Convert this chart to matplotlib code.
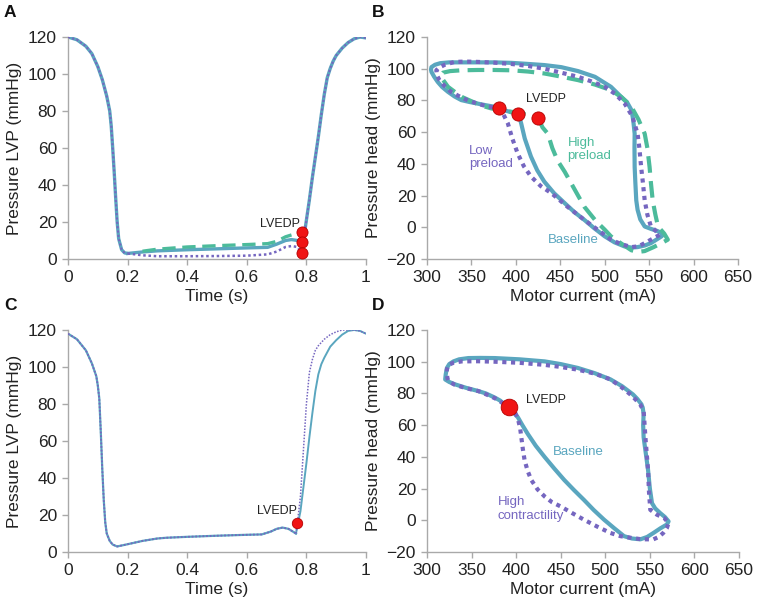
import matplotlib
matplotlib.use("Agg")
import matplotlib.pyplot as plt

plt.rcParams['font.family'] = ['Liberation Sans', 'DejaVu Sans']

# ---------------- Data ----------------
# Panel A: LVP vs time (shared systolic parts + three diastolic variants)
a_t_fall = [0, 0.03, 0.06, 0.08, 0.1, 0.115, 0.13, 0.14, 0.145, 0.15, 0.155, 0.16, 0.165, 0.17, 0.18, 0.19, 0.2]
a_p_fall = [120, 118.5, 115, 111, 104, 97, 88, 80, 72, 60, 47, 33, 20, 11, 5, 3.3, 3]
a_t_rise = [0.79, 0.80, 0.81, 0.82, 0.83, 0.84, 0.85, 0.86, 0.87, 0.88, 0.89, 0.9, 0.92, 0.94, 0.96, 0.98, 1.0]
a_p_rise = [10, 21, 32, 44, 55, 66, 78, 89, 98, 103, 107, 110, 114, 117, 119, 120, 119.5]
a_t_base = [0.2, 0.25, 0.3, 0.4, 0.5, 0.6, 0.67, 0.7, 0.73, 0.75, 0.77, 0.785]
a_p_base = [3, 3.8, 4.4, 5, 5.5, 6, 6.3, 8, 10, 10.5, 10, 9.5]
a_t_high = [0.25, 0.3, 0.4, 0.5, 0.6, 0.67, 0.7, 0.73, 0.75]
a_p_high = [4.2, 5.3, 6.5, 7.2, 7.8, 8.3, 9.5, 12, 13]
a_t_low = [0.2, 0.25, 0.3, 0.4, 0.5, 0.6, 0.67, 0.7, 0.73, 0.75, 0.77, 0.785]
a_p_low = [3, 2, 1.5, 1.5, 1.6, 1.8, 2.5, 4, 6.5, 7, 6.5, 3]
a_lvedp_t = [0.785, 0.785, 0.785]
a_lvedp_p = [14.5, 9, 3]

# Panel B: PQ loops, preload variation
b_base_x = [403, 406, 410, 417, 424, 432, 443, 455, 466, 477, 488, 500, 511, 522, 530, 537, 545, 552, 559, 564, 566, 560, 552, 545, 540, 537, 535.5, 534.5, 533.7, 533.5, 533.7, 532, 530, 525, 519, 507, 489, 470, 451, 432, 414, 395, 376, 357, 338.6, 325, 315, 309, 305, 304.5, 305, 308, 312, 317, 323.6, 331, 338.6, 348, 357, 366, 376, 386, 395, 403]
b_base_y = [71.4, 65.5, 56, 44.6, 36, 28.8, 21.5, 15.2, 9.5, 4.7, -0.5, -5.7, -9.5, -12, -12.8, -12.5, -11.5, -10, -7.5, -5.7, -4.5, -2.5, -1, 0.5, 5, 11, 17, 28, 38, 50, 59, 68, 74, 79, 82, 88.6, 94.9, 98.5, 101, 102.3, 103, 103.7, 104, 104, 104, 104, 103.5, 102.5, 101, 99.5, 98, 95, 91.7, 88.5, 85.4, 82.5, 80.2, 79, 78, 77, 76, 74, 72.5, 71.4]
b_low_x = [380.6, 385.5, 391, 396, 402, 409, 417, 428, 440, 458, 477, 492, 507, 518, 530, 538, 545, 553, 562, 556, 552, 548, 545, 543, 541, 539, 537, 531, 522.5, 512, 500, 485, 470, 451, 432, 414, 395, 376, 357, 344, 331, 320, 313, 310.5, 311, 314, 320, 327, 336, 346, 357, 368.6, 380.6]
b_low_y = [75.4, 71.8, 65.5, 56, 46.6, 38.5, 32, 26, 21.5, 13, 4.7, -1.5, -7.8, -10.5, -12.5, -12, -10, -7.5, -4.7, -1.5, 0.5, 8, 17, 28, 38, 50, 59, 70, 78, 84, 88.6, 92, 94.9, 97.5, 100, 101.7, 103, 103.8, 104.3, 104.5, 104.3, 102.5, 100.5, 99, 96, 92.8, 89, 85.4, 82.7, 80, 78, 76, 75.4]
b_high_x = [425.3, 430, 436, 441, 447, 455, 466, 477, 490, 500, 507, 518, 530, 538, 545, 555, 564, 571, 567, 560, 557, 554, 552, 550.5, 548, 545, 538, 530, 519, 507, 489, 470, 451, 432, 414, 395, 376, 357, 338.6, 326, 318, 316, 318, 323.6, 331, 340, 350, 360, 372, 387, 402, 414, 425.3]
b_high_y = [68.7, 63, 59, 50, 42, 35, 24, 13, 4, -1.5, -5.7, -10, -14.5, -15.5, -15, -12.5, -10, -7.8, -4, 0.5, 8, 17, 28, 38, 50, 59, 68, 76, 82, 86.5, 90, 92.8, 95, 97, 98.2, 99, 99.2, 99.2, 99, 98.5, 97.5, 96, 93, 88.6, 85.5, 82, 79.5, 77, 75, 73.5, 72.3, 70.8, 68.7]
b_lvedp_x = [380.6, 402.8, 425.3]
b_lvedp_y = [75.4, 71.4, 68.7]

# Panel C: LVP vs time, contractility variation
c_t_shared = [0, 0.03, 0.06, 0.08, 0.095, 0.1, 0.105, 0.11, 0.115, 0.12, 0.125, 0.13, 0.14, 0.15, 0.165, 0.2, 0.25, 0.3, 0.33, 0.4, 0.5, 0.6, 0.65, 0.68, 0.7, 0.72, 0.74, 0.765]
c_p_shared = [118, 115, 109, 102, 95, 90, 83, 65, 45, 28, 16, 10, 6, 4, 3, 4.2, 6, 7.3, 7.7, 8.2, 8.8, 9.3, 9.5, 11, 12.5, 13.2, 12.5, 10]
c_t_base_rise = [0.765, 0.77, 0.78, 0.79, 0.80, 0.81, 0.82, 0.83, 0.84, 0.85, 0.86, 0.88, 0.9, 0.92, 0.94, 0.96, 0.98, 1.0]
c_p_base_rise = [10, 14, 22, 35, 48, 62, 75, 87, 96, 101.5, 105, 111, 114.5, 117.5, 119.5, 120, 119.5, 118]
c_t_hc_rise = [0.765, 0.77, 0.78, 0.79, 0.80, 0.81, 0.82, 0.83, 0.84, 0.86, 0.88, 0.9, 0.92, 0.94, 0.96, 0.98, 1.0]
c_p_hc_rise = [10, 16, 30, 55, 80, 97, 104, 109, 111.5, 115, 117.5, 119, 120, 120, 120, 119.5, 118]
c_lvedp_t = [0.768]
c_lvedp_p = [15.5]

# Panel D: PQ loops, contractility variation
d_base_x = [392, 397, 402, 407, 413, 422, 432, 443, 454, 465, 476, 487, 498.6, 510, 521, 530, 539.4, 547, 554, 562, 569, 571, 567, 561.7, 556, 552.4, 550, 548, 545.5, 543, 542.5, 543, 542, 540.5, 536, 531, 519, 506, 488, 469, 450, 432, 404, 376, 360, 346.4, 336, 329.7, 325, 322.3, 321, 320.4, 325, 331.6, 344, 357.5, 366, 376, 382, 387, 392]
d_base_y = [71.5, 68, 64.9, 60, 54.5, 47, 39.9, 32.5, 25.4, 19, 12.9, 6.5, 0.4, -5, -10, -11.5, -12, -10.5, -8, -5, -2.7, -0.7, 2, 4.5, 7.5, 10.8, 20, 31.6, 42, 52.4, 60, 67, 71, 73.2, 76.5, 79.4, 84.5, 88.8, 92.8, 96.1, 98.5, 100.2, 101.5, 102.3, 102.4, 102.3, 101.5, 100.2, 98.5, 96, 92, 88.8, 87.2, 85.7, 83.5, 81.5, 80, 77.4, 75.5, 73.2, 71.5]
d_hc_x = [392, 398, 402, 404.5, 405.8, 407.5, 409.5, 413, 417, 424, 432, 440, 450, 463, 476, 491, 505.8, 517, 528, 541, 554, 560, 565, 569, 571, 566, 558, 550.5, 549, 548, 546.5, 545, 544, 543, 539, 530, 518, 506, 488, 469, 450, 432, 404, 376, 357, 339, 330, 324, 322.3, 322.3, 323, 324, 331, 344, 357.5, 366, 376, 382, 387, 392]
d_hc_y = [71.5, 69, 64, 58, 52.4, 45, 37.8, 31, 25.4, 19.5, 15, 11.5, 8.7, 4.5, 0.4, -4, -8, -10, -11, -12, -12, -10.5, -8, -5, -1.7, 1.5, 3.5, 6.6, 18, 31.6, 42, 52.4, 61, 69, 73.2, 78.5, 84, 88.8, 92.5, 95, 96.7, 98, 99.3, 100, 100.3, 100.2, 99.4, 98, 95, 92, 89.5, 87.7, 85.5, 83.3, 81.5, 79.5, 77, 75, 73, 71.5]
d_lvedp_x = [392]
d_lvedp_y = [71.5]

time_ticks = [0, 0.2, 0.4, 0.6, 0.8, 1]
time_ticklabels = ['0', '0.2', '0.4', '0.6', '0.8', '1']
lvp_ticks = [0, 20, 40, 60, 80, 100, 120]
cur_ticks = [300, 350, 400, 450, 500, 550, 600, 650]
head_ticks = [-20, 0, 20, 40, 60, 80, 100, 120]

# ---------------- Styling ----------------
C_BASE = '#5aa6bf'
C_HIGH = '#4cbb9b'
C_LOW = '#7566c0'
C_RED = '#f01414'
C_REDE = '#b40000'
SPINE = '#a9a9a9'
TXT = '#222222'

W, H = 758, 614
fig = plt.figure(figsize=(W / 100, H / 100), dpi=100)


def add_ax(l, r, t, b):
    return fig.add_axes([l / W, 1 - b / H, (r - l) / W, (b - t) / H])


def style(ax):
    for s in ['top', 'right']:
        ax.spines[s].set_visible(False)
    for s in ['left', 'bottom']:
        ax.spines[s].set_color(SPINE)
        ax.spines[s].set_linewidth(1.0)
    ax.tick_params(direction='out', length=4, width=1, color=SPINE,
                   labelsize=12.5, labelcolor=TXT, pad=4)


axA = add_ax(68, 366, 37, 259)
axB = add_ax(427, 738, 37, 259)
axC = add_ax(68, 366, 330, 552)
axD = add_ax(427, 739, 330, 552)

dot = (0, (1, 1.1))
dash = (0, (4, 2))

# Panel A
axA.plot(a_t_fall, a_p_fall, color=C_BASE, lw=2.4, solid_capstyle='round', zorder=2)
axA.plot(a_t_rise, a_p_rise, color=C_BASE, lw=2.4, solid_capstyle='round', zorder=2)
axA.plot(a_t_base, a_p_base, color=C_BASE, lw=2.4, zorder=2)
axA.plot(a_t_high, a_p_high, color=C_HIGH, lw=2.4, linestyle=dash, zorder=2)
axA.plot(a_t_low, a_p_low, color=C_LOW, lw=1.8, linestyle=dot, zorder=3)
axA.plot(a_t_fall, a_p_fall, color=C_LOW, lw=1.5, linestyle=dot, zorder=3)
axA.plot(a_t_rise, a_p_rise, color=C_LOW, lw=1.5, linestyle=dot, zorder=3)
axA.plot(a_lvedp_t, a_lvedp_p, 'o', ms=8, color=C_RED, mec=C_REDE, mew=0.6, zorder=5)
axA.text(0.71, 19, 'LVEDP', fontsize=9, ha='center', va='center', color=TXT)
axA.set_xlim(0, 1)
axA.set_ylim(0, 120)
axA.set_xticks(time_ticks)
axA.set_xticklabels(time_ticklabels)
axA.set_yticks(lvp_ticks)
axA.set_xlabel('Time (s)', fontsize=12.5, color=TXT, labelpad=3)
axA.set_ylabel('Pressure LVP (mmHg)', fontsize=12.5, color=TXT, labelpad=4)
style(axA)

# Panel B
axB.plot(b_base_x, b_base_y, color=C_BASE, lw=3.0, zorder=2)
axB.plot(b_high_x, b_high_y, color=C_HIGH, lw=3.0, linestyle=dash, zorder=3)
axB.plot(b_low_x, b_low_y, color=C_LOW, lw=3.0, linestyle=dot, zorder=4)
axB.plot(b_lvedp_x, b_lvedp_y, 'o', ms=9.5, color=C_RED, mec=C_REDE, mew=0.6, zorder=6)
axB.text(434, 81, 'LVEDP', fontsize=9, ha='center', va='center', color=TXT)
axB.text(347, 44, 'Low\npreload', fontsize=9.5, ha='left', va='center', color=C_LOW, linespacing=1.2)
axB.text(458, 49, 'High\npreload', fontsize=9.5, ha='left', va='center', color=C_HIGH, linespacing=1.2)
axB.text(465, -8, 'Baseline', fontsize=9.5, ha='center', va='center', color=C_BASE)
axB.set_xlim(300, 650)
axB.set_ylim(-20, 120)
axB.set_xticks(cur_ticks)
axB.set_yticks(head_ticks)
axB.set_yticklabels(['\u221220' if v < 0 else str(v) for v in head_ticks])
axB.set_xlabel('Motor current (mA)', fontsize=12.5, color=TXT, labelpad=3)
axB.set_ylabel('Pressure head (mmHg)', fontsize=12.5, color=TXT, labelpad=4)
style(axB)

# Panel C
axC.plot(c_t_shared, c_p_shared, color=C_BASE, lw=1.6, zorder=2)
axC.plot(c_t_base_rise, c_p_base_rise, color=C_BASE, lw=1.4, zorder=2)
axC.plot(c_t_shared, c_p_shared, color=C_LOW, lw=1.3, linestyle=(0, (1, 1)), zorder=3)
axC.plot(c_t_hc_rise, c_p_hc_rise, color=C_LOW, lw=1.1, linestyle=(0, (1, 1)), zorder=3)
axC.plot(c_lvedp_t, c_lvedp_p, 'o', ms=7.5, color=C_RED, mec=C_REDE, mew=0.6, zorder=5)
axC.text(0.70, 22, 'LVEDP', fontsize=9, ha='center', va='center', color=TXT)
axC.set_xlim(0, 1)
axC.set_ylim(0, 120)
axC.set_xticks(time_ticks)
axC.set_xticklabels(time_ticklabels)
axC.set_yticks(lvp_ticks)
axC.set_xlabel('Time (s)', fontsize=12.5, color=TXT, labelpad=3)
axC.set_ylabel('Pressure LVP (mmHg)', fontsize=12.5, color=TXT, labelpad=4)
style(axC)

# Panel D
axD.plot(d_base_x, d_base_y, color=C_BASE, lw=3.0, zorder=2)
axD.plot(d_hc_x, d_hc_y, color=C_LOW, lw=3.0, linestyle=dot, zorder=3)
axD.plot(d_lvedp_x, d_lvedp_y, 'o', ms=12, color=C_RED, mec=C_REDE, mew=0.6, zorder=6)
axD.text(434, 76, 'LVEDP', fontsize=9, ha='center', va='center', color=TXT)
axD.text(470, 43, 'Baseline', fontsize=9.5, ha='center', va='center', color=C_BASE)
axD.text(379, 7, 'High\ncontractility', fontsize=9.5, ha='left', va='center', color=C_LOW, linespacing=1.2)
axD.set_xlim(300, 650)
axD.set_ylim(-20, 120)
axD.set_xticks(cur_ticks)
axD.set_yticks(head_ticks)
axD.set_yticklabels(['\u221220' if v < 0 else str(v) for v in head_ticks])
axD.set_xlabel('Motor current (mA)', fontsize=12.5, color=TXT, labelpad=3)
axD.set_ylabel('Pressure head (mmHg)', fontsize=12.5, color=TXT, labelpad=4)
style(axD)

# Panel letters
for lab, x, y in [('A', 4, 5), ('B', 372, 5), ('C', 4, 298), ('D', 372, 298)]:
    fig.text(x / W, 1 - y / H, lab, fontsize=12.5, fontweight='bold', ha='left', va='top', color='#111111')

fig.savefig('out.png', dpi=100)
